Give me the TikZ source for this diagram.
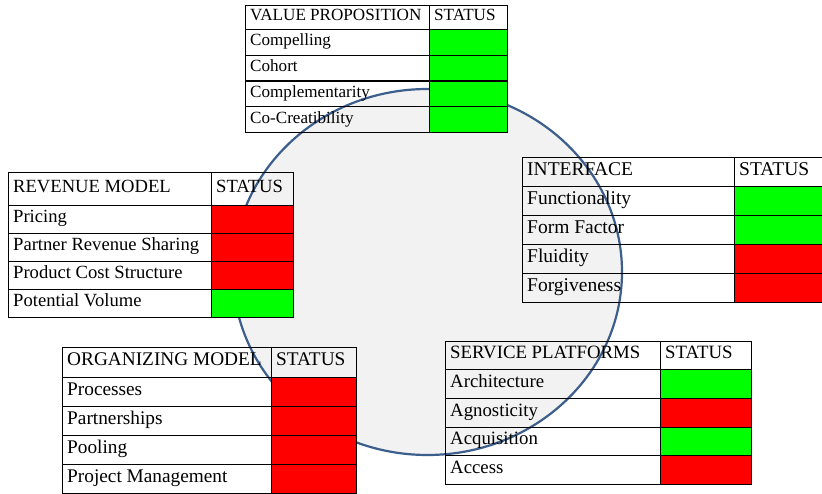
\documentclass[tikz,border=0pt]{standalone}
\usepackage{fontspec}
\setmainfont{Liberation Serif}
\definecolor{ringblue}{RGB}{59,94,140}
\definecolor{ringfill}{RGB}{242,242,242}
\definecolor{okgreen}{RGB}{0,255,0}
\definecolor{badred}{RGB}{255,0,0}
\tikzset{
  cell/.style={
    draw=black,
    line width=1.1pt,
    rectangle,
    inner sep=0pt,
    anchor=north west
  },
  celltext/.style={
    anchor=west,
    inner xsep=5pt,
    inner ysep=0pt,
    text height=0.68em,
    text depth=0pt
  },
  ring/.style={
    draw=ringblue,
    line width=2.2pt,
    fill=ringfill
  }
}
% #1 name, #2 corner, #3/#4 column widths, #5 header height, #6 row height,
% #7 font size, #8 title, #9 rows
\newcommand{\statustable}[9]{%
  \begin{scope}[shift={#2}, font=\fontsize{#7}{#7}\selectfont]
    \node[cell, minimum width=#3, minimum height=#5] (#1-head) at (0,0) {};
    \node[celltext] (#1-head-t) at (#1-head.west) {#8};
    \node[cell, minimum width=#4, minimum height=#5] (#1-stat) at (#3,0) {};
    \node[celltext] (#1-stat-t) at (#1-stat.west) {STATUS};
    \foreach \rowname/\rowstate [count=\i] in {#9} {
      \node[cell, minimum width=#3, minimum height=#6] (#1-\i) at (0,{#5+(\i-1)*#6}) {};
      \node[celltext] (#1-\i-t) at (#1-\i.west) {\rowname};
      \node[cell, fill=\rowstate, minimum width=#4, minimum height=#6] (#1-\i-s) at (#3,{#5+(\i-1)*#6}) {};
    }
  \end{scope}}

\begin{document}
\begin{tikzpicture}[x=1pt, y=-1pt]
  \clip (0,0) rectangle (822,494);
  \draw[ring] (427.5,272) ellipse [x radius=194.5pt, y radius=183pt];

  \statustable{value}{(245,5)}{184}{78}{24}{25.75}{17.1}{VALUE PROPOSITION}
    {Compelling/okgreen, Cohort/okgreen, Complementarity/okgreen, Co-Creatibility/okgreen}
  \statustable{revenue}{(8,172)}{203}{82}{33}{28}{18.6}{REVENUE MODEL}
    {Pricing/badred, Partner Revenue Sharing/badred, Product Cost Structure/badred, Potential Volume/okgreen}
  \statustable{interface}{(522,157)}{212}{100}{29}{29}{19.5}{INTERFACE}
    {Functionality/okgreen, Form Factor/okgreen, Fluidity/badred, Forgiveness/badred}
  \statustable{organizing}{(62,347)}{209}{85}{30}{29}{19.3}{ORGANIZING MODEL}
    {Processes/badred, Partnerships/badred, Pooling/badred, Project Management/badred}
  \statustable{service}{(445,341)}{215}{91}{28}{28.75}{18.8}{SERVICE PLATFORMS}
    {Architecture/okgreen, Agnosticity/badred, Acquisition/okgreen, Access/badred}
\end{tikzpicture}
\end{document}
